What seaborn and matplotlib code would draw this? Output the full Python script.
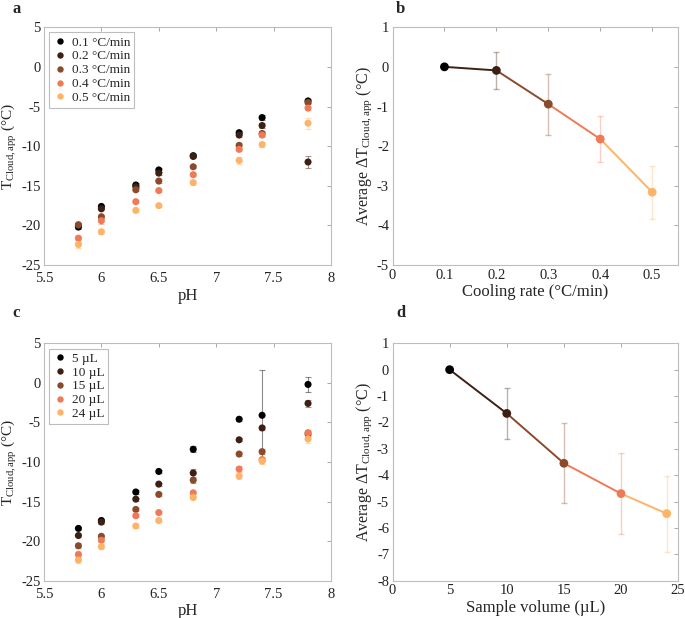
import numpy as np
import pandas as pd
import seaborn as sns
import matplotlib
matplotlib.use("Agg")
import matplotlib.pyplot as plt

# data
ph = [5.8, 6.0, 6.3, 6.5, 6.8, 7.2, 7.4, 7.8]

rates = ['0.1 °C/min', '0.2 °C/min', '0.3 °C/min', '0.4 °C/min', '0.5 °C/min']
t_rate = [
    [-20.2, -17.6, -14.9, -13.0, -11.2, -8.3, -6.4, -4.3],
    [-20.0, -17.9, -15.1, -13.4, -11.3, -8.6, -7.4, -12.0],
    [-19.9, -18.9, -15.5, -14.4, -12.6, -9.9, -8.4, -4.5],
    [-21.6, -19.4, -17.0, -15.6, -13.6, -10.4, -8.6, -5.2],
    [-22.4, -20.8, -18.1, -17.5, -14.6, -11.8, -9.8, -7.1],
]
e_rate = [
    [0.2, 0.2, 0.2, 0.2, 0.2, 0.25, 0.35, 0.2],
    [0.2, 0.2, 0.2, 0.2, 0.2, 0.2, 0.3, 0.75],
    [0.2, 0.2, 0.2, 0.2, 0.2, 0.3, 0.3, 0.2],
    [0.2, 0.4, 0.2, 0.2, 0.2, 0.2, 0.3, 0.2],
    [0.5, 0.3, 0.2, 0.2, 0.3, 0.4, 0.3, 0.7],
]

volumes = ['5 µL', '10 µL', '15 µL', '20 µL', '24 µL']
t_vol = [
    [-18.4, -17.4, -13.8, -11.2, -8.4, -4.6, -4.1, -0.2],
    [-19.3, -17.6, -14.7, -12.8, -11.4, -7.2, -5.7, -2.6],
    [-20.6, -19.4, -16.0, -14.1, -12.3, -9.0, -8.7, -6.45],
    [-21.7, -19.9, -16.8, -16.4, -13.9, -10.9, -9.7, -6.3],
    [-22.4, -20.7, -18.1, -17.4, -14.5, -11.8, -9.9, -7.1],
]
e_vol = [
    [0.2, 0.2, 0.2, 0.2, 0.4, 0.2, 5.75, 0.95],
    [0.2, 0.2, 0.2, 0.2, 0.5, 0.2, 0.3, 0.4],
    [0.3, 0.2, 0.2, 0.2, 0.3, 0.2, 0.3, 0.3],
    [0.3, 0.2, 0.2, 0.2, 0.2, 0.4, 0.3, 0.3],
    [0.4, 0.3, 0.2, 0.2, 0.2, 0.3, 0.3, 0.5],
]

cool_rate = [0.1, 0.2, 0.3, 0.4, 0.5]
dt_rate = [0.0, -0.09, -0.94, -1.82, -3.16]
dt_rate_err = [0.0, 0.47, 0.77, 0.58, 0.67]

sample_vol = [5, 10, 15, 20, 24]
dt_vol = [0.0, -1.66, -3.55, -4.70, -5.46]
dt_vol_err = [0.0, 0.98, 1.52, 1.54, 1.44]

colors = ['#000000', '#3d2014', '#8a4a2c', '#ef7a55', '#fdb468']

sns.set_style("white")
plt.rcParams['font.family'] = ['Liberation Serif', 'DejaVu Serif']
plt.rcParams['mathtext.fontset'] = 'custom'
plt.rcParams['mathtext.rm'] = 'Liberation Serif'
plt.rcParams['mathtext.it'] = 'Liberation Serif:italic'
plt.rcParams['axes.unicode_minus'] = False

fig = plt.figure(figsize=(6.85, 6.18), dpi=100)
ax_a = fig.add_axes([0.0642, 0.571, 0.419, 0.385])
ax_b = fig.add_axes([0.573, 0.571, 0.417, 0.385])
ax_c = fig.add_axes([0.0642, 0.0605, 0.419, 0.384])
ax_d = fig.add_axes([0.573, 0.0605, 0.417, 0.384])

ylab_t = r'T$_{\rm Cloud,app}$ (°C)'
ylab_dt = r'Average $\Delta$T$_{\rm Cloud,app}$ (°C)'


def style(ax):
    for s in ax.spines.values():
        s.set_color('#bdbdbd')
        s.set_linewidth(0.8)
    ax.tick_params(direction='in', length=3, width=0.6, color='#9a9a9a',
                   labelsize=10.5, top=True, right=True, labelcolor='#222222',
                   pad=2.5)


def scatter_panel(ax, labels, vals, errs):
    rows = []
    for lab, v in zip(labels, vals):
        for x, y in zip(ph, v):
            rows.append((x, y, lab))
    df = pd.DataFrame(rows, columns=['pH', 'T', 'group'])
    for i, lab in enumerate(labels):
        ax.errorbar(ph, vals[i], yerr=errs[i], fmt='none', ecolor=colors[i],
                    alpha=0.45, elinewidth=0.8, capsize=2, capthick=0.8, zorder=1)
    sns.scatterplot(data=df, x='pH', y='T', hue='group', hue_order=labels,
                    palette=colors, s=26, edgecolor='none', ax=ax, zorder=3)
    ax.set_xlim(5.5, 8)
    ax.set_ylim(-25, 5)
    ax.set_xticks([5.5, 6, 6.5, 7, 7.5, 8])
    ax.set_xticklabels(['5.5', '6', '6.5', '7', '7.5', '8'])
    ax.set_yticks([5, 0, -5, -10, -15, -20, -25])
    ax.set_xlabel('pH', fontsize=12, labelpad=2)
    ax.set_ylabel(ylab_t, fontsize=11)
    ax.yaxis.set_label_coords(-0.088, 0.5)
    leg = ax.legend(loc='upper left', fontsize=9.5, handletextpad=0.3,
                    borderpad=0.3, labelspacing=0.12, handlelength=1.1,
                    fancybox=False, framealpha=1, borderaxespad=0.4,
                    markerscale=0.9)
    leg.get_frame().set_edgecolor('#bdbdbd')
    leg.get_frame().set_linewidth(0.8)
    style(ax)
    ax.tick_params(axis='x', pad=5)


def line_panel(ax, xs, ys, es):
    for i in range(1, len(xs)):
        seg = pd.DataFrame({'x': xs[i - 1:i + 1], 'y': ys[i - 1:i + 1]})
        sns.lineplot(data=seg, x='x', y='y', color=colors[i], lw=1.4, ax=ax,
                     zorder=2)
    for i in range(1, len(xs)):
        ax.errorbar(xs[i], ys[i], yerr=es[i], fmt='none', ecolor=colors[i],
                    alpha=0.35, elinewidth=1.0, capsize=2.5, capthick=1.0,
                    zorder=1)
    df = pd.DataFrame({'x': xs, 'y': ys, 'c': list(range(len(xs)))})
    sns.scatterplot(data=df, x='x', y='y', hue='c', palette=colors, s=40,
                    edgecolor='none', legend=False, ax=ax, zorder=3)
    style(ax)


scatter_panel(ax_a, rates, t_rate, e_rate)
scatter_panel(ax_c, volumes, t_vol, e_vol)

line_panel(ax_b, cool_rate, dt_rate, dt_rate_err)
ax_b.set_xlim(0, 0.55)
ax_b.set_ylim(-5, 1)
ax_b.set_xticks([0, 0.1, 0.2, 0.3, 0.4, 0.5])
ax_b.set_xticklabels(['0', '0.1', '0.2', '0.3', '0.4', '0.5'])
ax_b.set_yticks(range(-5, 2))
ax_b.set_xlabel('Cooling rate (°C/min)', fontsize=12, labelpad=2)
ax_b.set_ylabel(ylab_dt, fontsize=11.5, labelpad=2)

line_panel(ax_d, sample_vol, dt_vol, dt_vol_err)
ax_d.set_xlim(0, 25)
ax_d.set_ylim(-8, 1)
ax_d.set_xticks([0, 5, 10, 15, 20, 25])
ax_d.set_yticks(range(-8, 2))
ax_d.set_xlabel('Sample volume (µL)', fontsize=12, labelpad=2)
ax_d.set_ylabel(ylab_dt, fontsize=11.5, labelpad=2)

for lab, x, y in [('a', 0.018, 0.985), ('b', 0.578, 0.985),
                  ('c', 0.018, 0.493), ('d', 0.578, 0.493)]:
    fig.text(x, y, lab, fontsize=12, fontweight='bold', ha='left', va='center')

fig.savefig('out.png', dpi=100)
